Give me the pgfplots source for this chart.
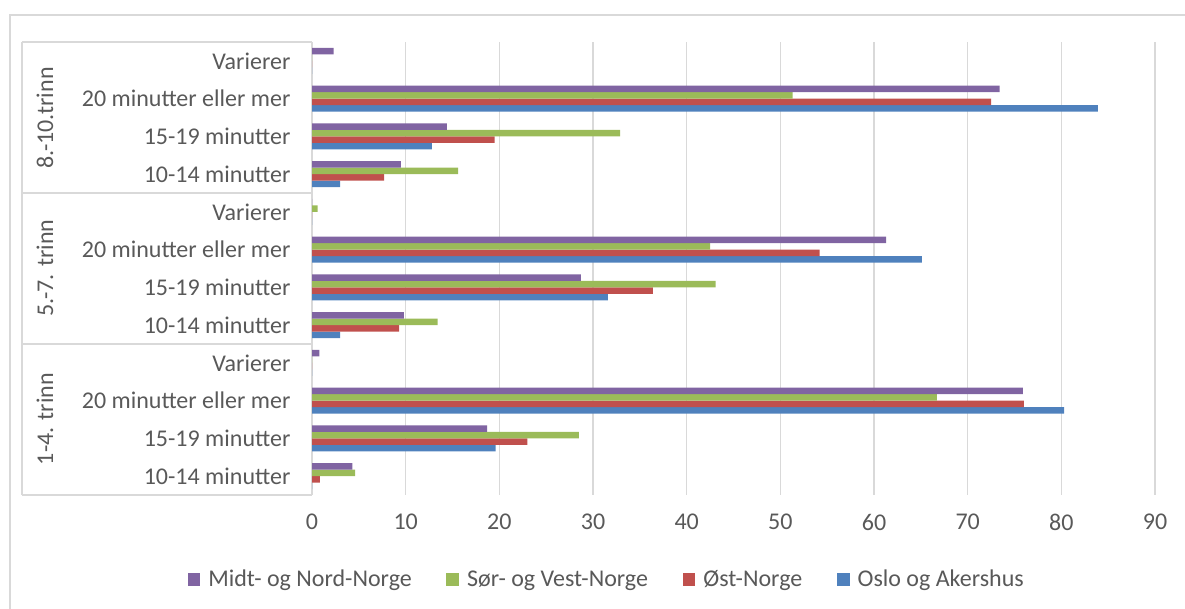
\documentclass[border=0pt]{standalone}
\usepackage{pgfplots}
\pgfplotsset{compat=1.18}
\usepackage{fontspec}
\setmainfont{Carlito}

\definecolor{oslo}{HTML}{4F81BD}
\definecolor{ost}{HTML}{C0504D}
\definecolor{sor}{HTML}{9BBB59}
\definecolor{midt}{HTML}{8064A2}
\definecolor{gridc}{HTML}{D9D9D9}
\definecolor{textc}{HTML}{595959}

% y = 0..11: 1-4 trinn (0-3), 5.-7. trinn (4-7), 8.-10.trinn (8-11)
\pgfplotstableread{
y oslo ost sor midt
0  0    0.85 4.6  4.3
1  19.6 23.0 28.5 18.7
2  80.3 76.0 66.7 75.9
3  0    0    0    0.8
4  3.0  9.3  13.4 9.8
5  31.6 36.4 43.1 28.7
6  65.1 54.2 42.5 61.3
7  0    0    0.6  0
8  3.0  7.7  15.6 9.5
9  12.8 19.5 32.9 14.4
10 83.9 72.5 51.3 73.4
11 0    0    0    2.3
}\data

\begin{document}
\fontsize{18}{21.6}\selectfont
\begin{tikzpicture}[x=0.75pt,y=0.75pt]
\path[use as bounding box] (0,0) rectangle (1185,609);
\draw[gridc, line width=1.2pt] (10,0) -- (10,594) -- (1185,594);

\begin{axis}[
    at={(234pt,85.5pt)}, anchor=south west,
    scale only axis,
    width=632.25pt, height=339.75pt,
    xbar=0pt, bar width=4.875pt,
    xmin=0, xmax=90, ymin=-0.5, ymax=11.5,
    xtick={0,10,...,90},
    ytick={0,...,11},
    yticklabels={10-14 minutter,15-19 minutter,20 minutter eller mer,Varierer,
                 10-14 minutter,15-19 minutter,20 minutter eller mer,Varierer,
                 10-14 minutter,15-19 minutter,20 minutter eller mer,Varierer},
    major tick length=0pt,
    axis line style={draw=none},
    xmajorgrids,
    major grid style={gridc, line width=1pt},
    ticklabel style={font=\fontsize{18}{21.6}\selectfont, text=textc},
    /pgf/number format/assume math mode=true,
    yticklabel style={xshift=-10pt},
    xticklabel style={yshift=-8pt},
    legend style={at={(0.35,-0.188)}, anchor=center, draw=none,
        font=\fontsize{18}{21.6}\selectfont, text=textc,
        /tikz/every even column/.append style={column sep=24pt},
        /tikz/every odd column/.append style={column sep=4pt}},
    legend columns=-1,
    reverse legend,
    sq/.style={legend image code/.code={\fill[##1] (0pt,-4.2pt) rectangle (9.5pt,5.3pt);}},
]
\addplot[fill=oslo, draw=none, sq] table[x=oslo, y=y] {\data};
\addplot[fill=ost, draw=none, sq] table[x=ost, y=y] {\data};
\addplot[fill=sor, draw=none, sq] table[x=sor, y=y] {\data};
\addplot[fill=midt, draw=none, sq] table[x=midt, y=y] {\data};
\legend{Oslo og Akershus, Øst-Norge, Sør- og Vest-Norge, Midt- og Nord-Norge}
\end{axis}

% category table
\draw[gridc, line width=1.2pt] (22,114) -- (22,567);
\foreach \yy in {114,265,416,567} \draw[gridc, line width=1.2pt] (22,\yy) -- (312,\yy);
\begin{scope}[text=textc, font=\fontsize{18}{21.6}\selectfont]
\node[rotate=90] at (45,491) {8.-10.trinn};
\node[rotate=90] at (45,341) {5.-7. trinn};
\node[rotate=90] at (45,190) {1-4. trinn};
\end{scope}
\end{tikzpicture}
\end{document}
